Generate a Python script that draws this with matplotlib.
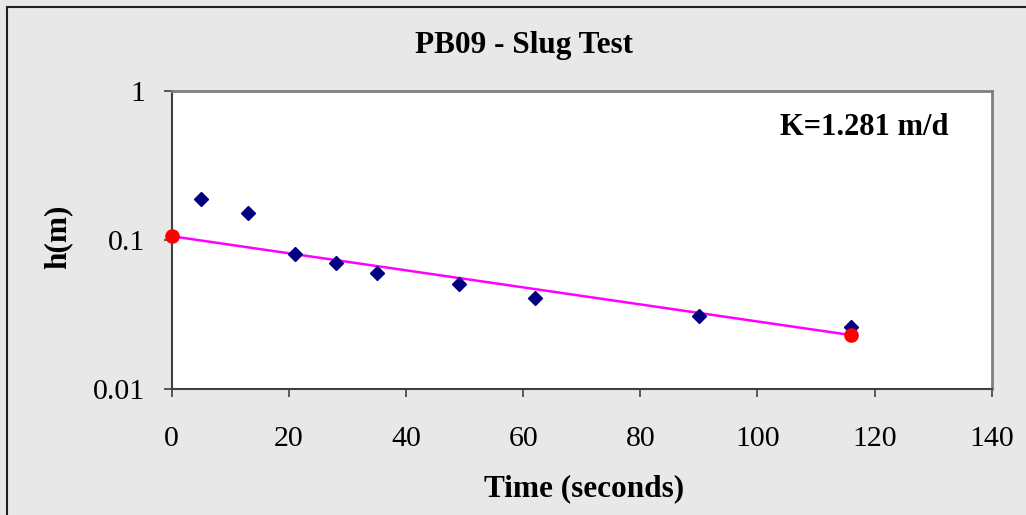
import matplotlib
matplotlib.use("Agg")
import matplotlib.pyplot as plt
from matplotlib.lines import Line2D
from matplotlib.ticker import NullLocator

# measured data (time in s, head in m)
time_s = [5, 13, 21, 28, 35, 49, 62, 90, 116]
head_m = [0.188, 0.152, 0.080, 0.0706, 0.0605, 0.0504, 0.0406, 0.0311, 0.0262]

# fitted line end points
fit_t = [0, 116]
fit_h = [0.106, 0.023]

x_ticks = [0, 20, 40, 60, 80, 100, 120, 140]
y_ticks = [0.01, 0.1, 1]
y_tick_labels = ["0.01", "0.1", "1"]

plt.rcParams["font.family"] = ["Liberation Serif", "DejaVu Serif"]

W, H = 1026, 515
fig = plt.figure(figsize=(W / 100, H / 100), dpi=100)
fig.patch.set_facecolor("#e8e8e8")

# outer chart border (left + top visible)
fig.add_artist(Line2D([7 / W, 7 / W], [0, 1 - 7 / H], transform=fig.transFigure,
                      color="#202020", lw=1.5))
fig.add_artist(Line2D([7 / W, 1], [1 - 7 / H, 1 - 7 / H], transform=fig.transFigure,
                      color="#202020", lw=1.5))

ax = fig.add_axes([171.7 / W, 1 - 389 / H, (991.7 - 171.7) / W, (389 - 91) / H])
ax.set_facecolor("white")

ax.plot(fit_t, fit_h, color="#ff00ff", lw=1.8, zorder=2)
ax.plot(time_s, head_m, linestyle="none", marker="D", ms=7.6, color="#000080",
        mec="#000080", zorder=3)
ax.plot(fit_t, fit_h, linestyle="none", marker="o", ms=9.5, color="#ff0000",
        mec="#ff0000", zorder=4, clip_on=False)

ax.set_yscale("log")
ax.set_xlim(0, 140)
ax.set_ylim(0.01, 1)
ax.set_xticks(x_ticks)
ax.set_yticks(y_ticks)
ax.set_yticklabels(y_tick_labels)
ax.yaxis.set_minor_locator(NullLocator())

ax.tick_params(axis="both", direction="out", length=6, width=1.2, color="#404040",
               labelsize=21.5, labelcolor="black")
ax.tick_params(axis="x", pad=21)
ax.tick_params(axis="y", pad=13)

for side in ["left", "bottom"]:
    ax.spines[side].set_color("#404040")
    ax.spines[side].set_linewidth(1.5)
for side in ["top", "right"]:
    ax.spines[side].set_color("#808080")
    ax.spines[side].set_linewidth(2)

fig.text(524 / W, 1 - 46 / H, "PB09 - Slug Test", ha="center", va="center",
         fontsize=22.5, fontweight="bold")
fig.text(584 / W, 1 - 489 / H, "Time (seconds)", ha="center", va="center",
         fontsize=22.5, fontweight="bold")
fig.text(58 / W, 1 - 237 / H, "h(m)", ha="center", va="center", rotation=90,
         fontsize=22.5, fontweight="bold")
fig.text(864 / W, 1 - 128 / H, "K=1.281 m/d", ha="center", va="center",
         fontsize=22, fontweight="bold")

fig.savefig("out.png", dpi=100, facecolor=fig.get_facecolor())
